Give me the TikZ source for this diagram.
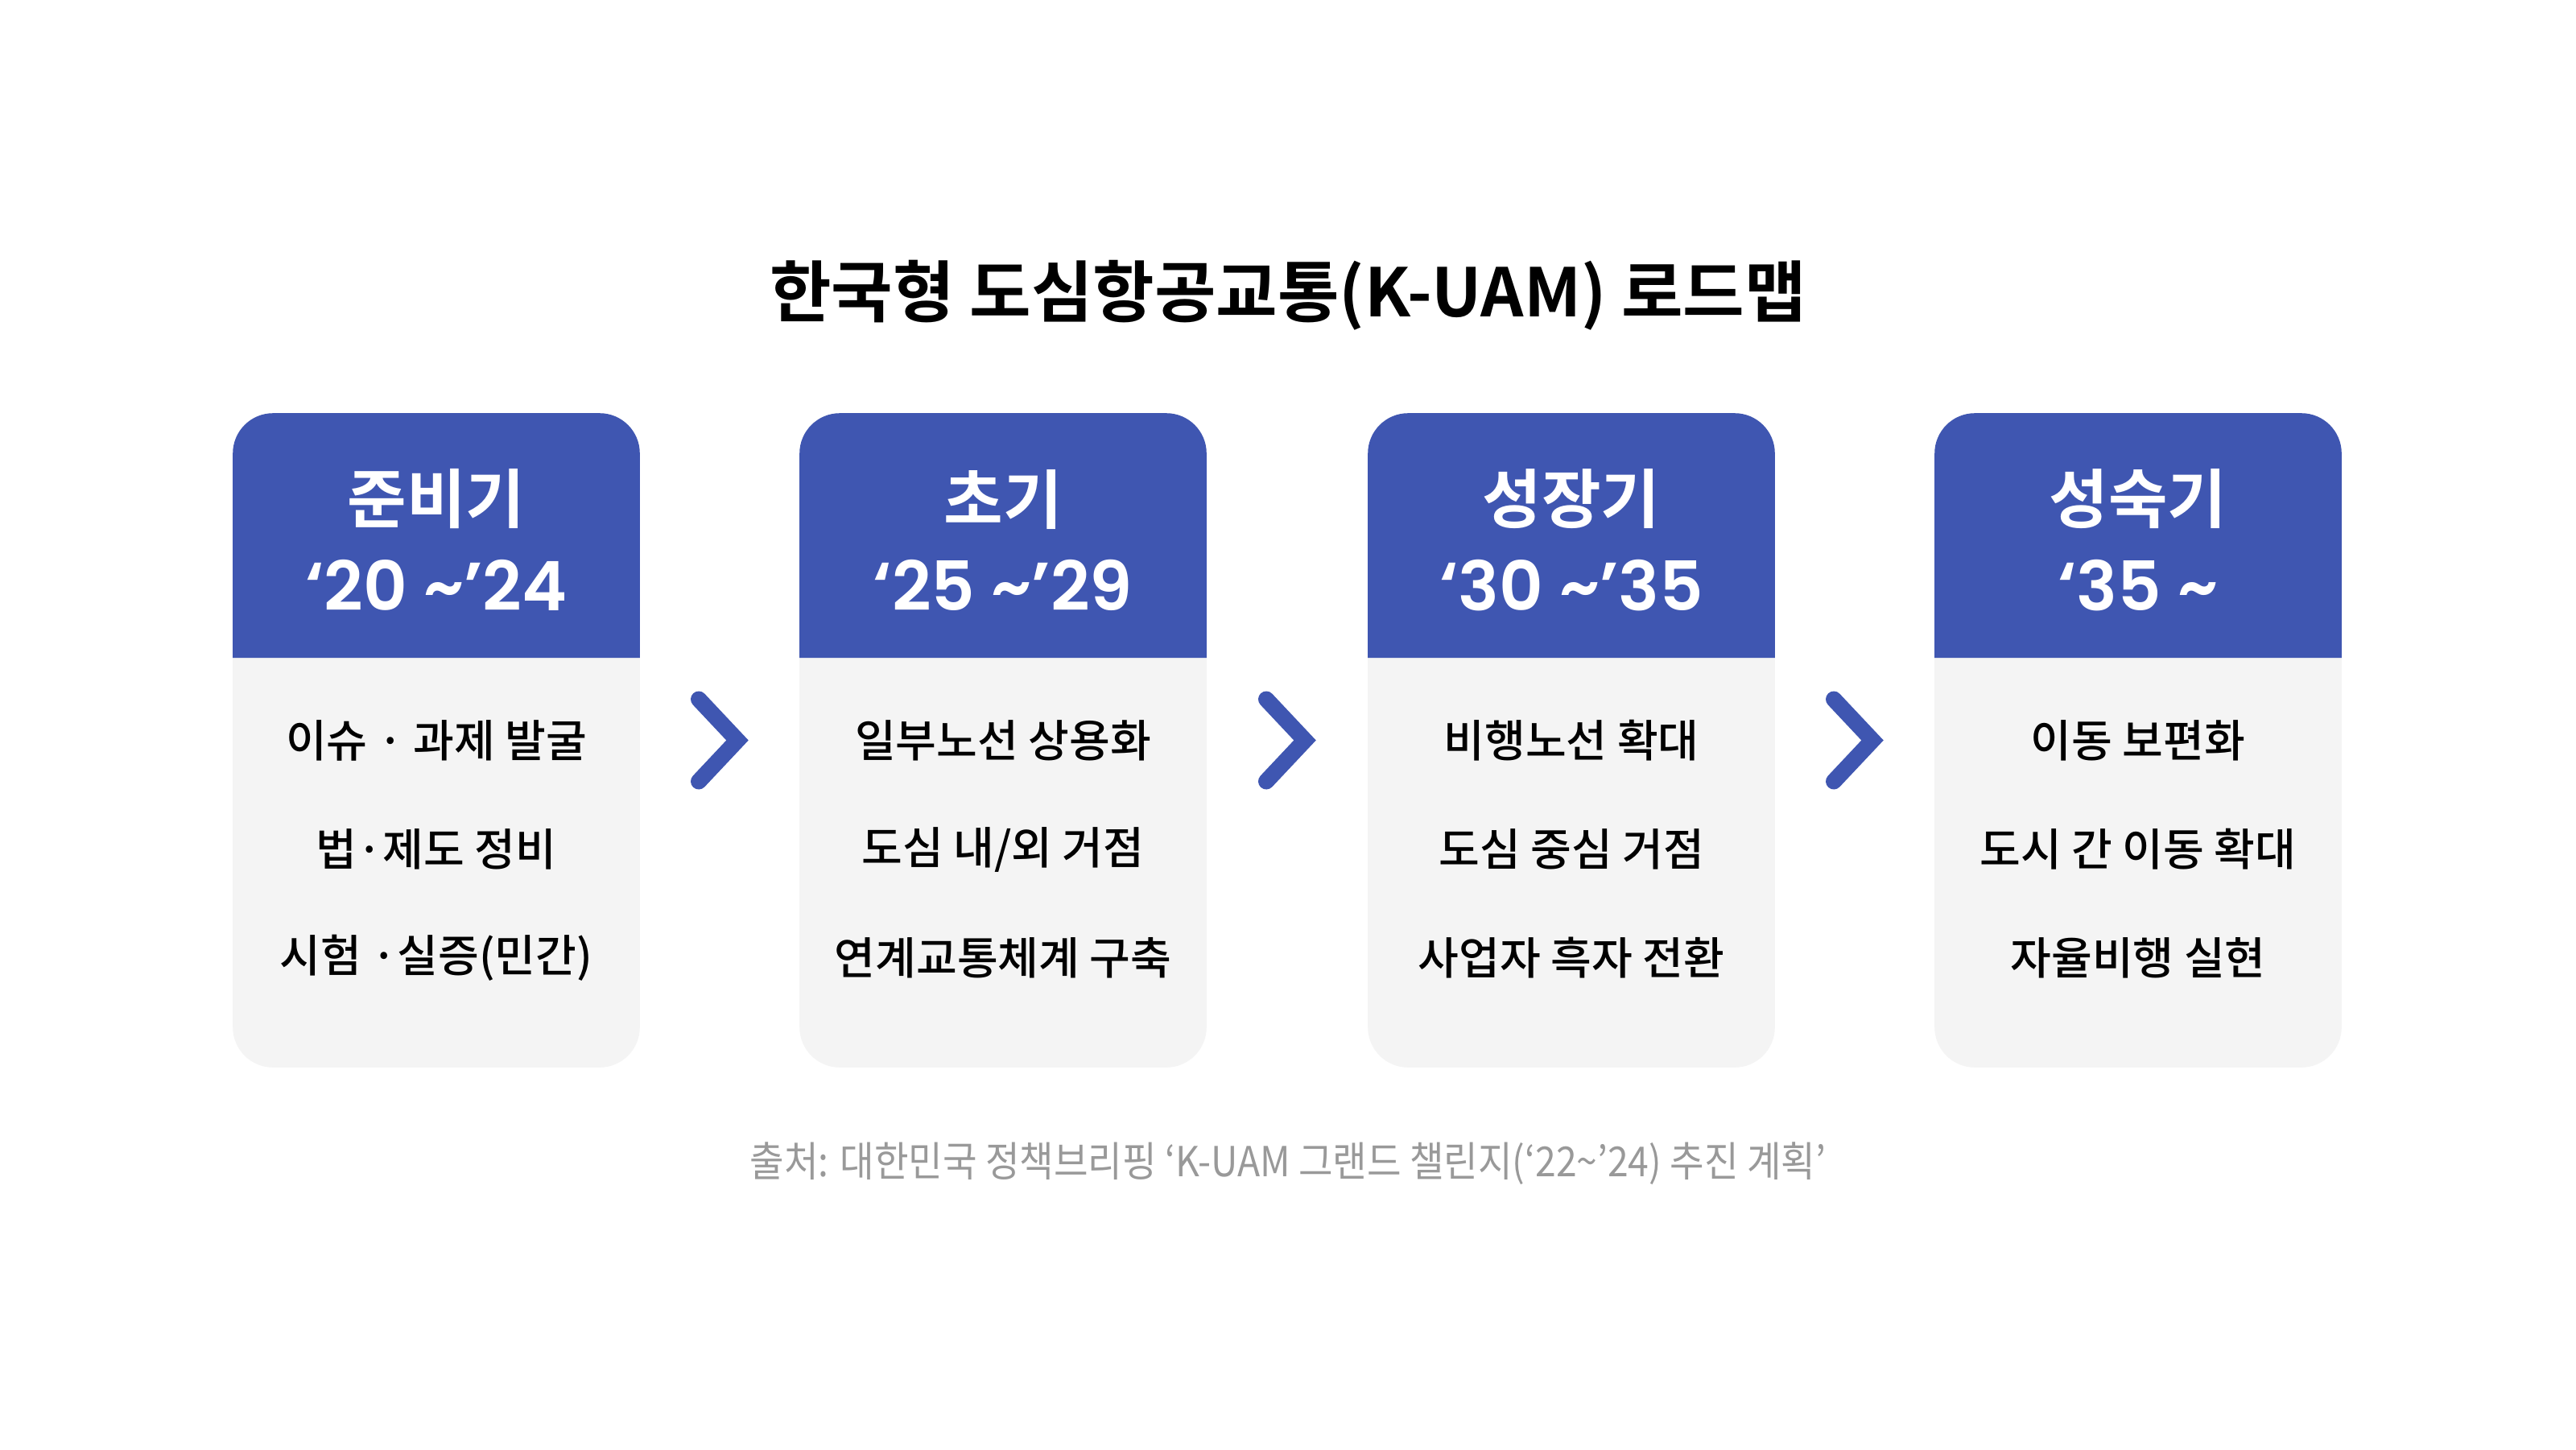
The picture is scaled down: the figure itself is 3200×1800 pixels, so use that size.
\documentclass[tikz,border=0pt]{standalone}
\usepackage{fontspec}
\setmainfont{Noto Sans CJK KR}[BoldFont={Noto Sans CJK KR Bold}]
\newfontfamily\medfont{Noto Sans CJK KR Medium}
\newfontfamily\srcfont{Noto Sans CJK KR}[FakeStretch=0.9]
\newfontfamily\yearfont{Poppins}[UprightFont={* SemiBold}]
\usetikzlibrary{calc}
\definecolor{hdrblue}{HTML}{3F56B1}
\definecolor{cardgray}{HTML}{F4F4F4}
\definecolor{srcgray}{HTML}{999999}
\tikzset{
  cardframe/.style={draw=none, minimum width=126pt, minimum height=202.75pt, inner sep=0pt},
  titletext/.style={font=\bfseries\fontsize{20.8}{24}\selectfont, text=black, inner sep=0pt},
  hdrtext/.style={font=\bfseries\fontsize{20}{24}\selectfont, text=white, inner sep=0pt},
  yeartext/.style={font=\yearfont\fontsize{21.2}{24}\selectfont, text=white, inner sep=0pt},
  bodytext/.style={font=\medfont\fontsize{13.8}{16}\selectfont, text=black, inner sep=0pt},
  srctext/.style={font=\srcfont\fontsize{12.85}{15}\selectfont, text=srcgray, inner sep=0pt},
  chevron/.style={draw=hdrblue, line width=5pt, line cap=round, line join=miter},
}
\newcommand\mkcard[7]{%
  \node[cardframe] (#1) at (#2,919.5) {};
  \fill[cardgray, rounded corners=12.5pt] (#1.north west) rectangle (#1.south east);
  \fill[hdrblue] ([yshift=-76pt]#1.north west) [rounded corners=12.5pt] -- (#1.north west) -- (#1.north east) [sharp corners] -- ([yshift=-76pt]#1.north east) -- cycle;
  \node[hdrtext] (#1h) at (#2,620) {#3};
  \node[yeartext] (#1y) at (#2,727) {#4};
  \node[bodytext] (#1a) at (#2,920) {#5};
  \node[bodytext] (#1b) at (#2,1055) {#6};
  \node[bodytext] (#1c) at (#2,1190) {#7};
}
\newcommand\mkchev[2]{%
  \coordinate (m#1#2) at ($(#1.east)!0.5!(#2.west)$);
  \draw[chevron] ($(m#1#2)+(-26,-51)$) -- ($(m#1#2)+(22,0)$) -- ($(m#1#2)+(-26,51)$);
}
\begin{document}
\begin{tikzpicture}[x=0.25pt, y=-0.25pt]
\useasboundingbox (0,0) rectangle (3200,1800);
\fill[white] (0,0) rectangle (3200,1800);
\node[titletext] (title) at (1600,367) {한국형 도심항공교통(K-UAM) 로드맵};
\mkcard{c1}{542}{준비기}{‘20 \textasciitilde’24}{이슈 · 과제 발굴}{법·제도 정비}{시험 ·실증(민간)}
\mkcard{c2}{1246}{초기}{‘25 \textasciitilde’29}{일부노선 상용화}{도심 내/외 거점}{연계교통체계 구축}
\mkcard{c3}{1952}{성장기}{‘30 \textasciitilde’35}{비행노선 확대}{도심 중심 거점}{사업자 흑자 전환}
\mkcard{c4}{2656}{성숙기}{‘35 \textasciitilde}{이동 보편화}{도시 간 이동 확대}{자율비행 실현}
\mkchev{c1}{c2}
\mkchev{c2}{c3}
\mkchev{c3}{c4}
\node[srctext] (src) at (1600,1445) {출처: 대한민국 정책브리핑 ‘K-UAM 그랜드 챌린지(‘22\textasciitilde’24) 추진 계획’};
\end{tikzpicture}
\end{document}
